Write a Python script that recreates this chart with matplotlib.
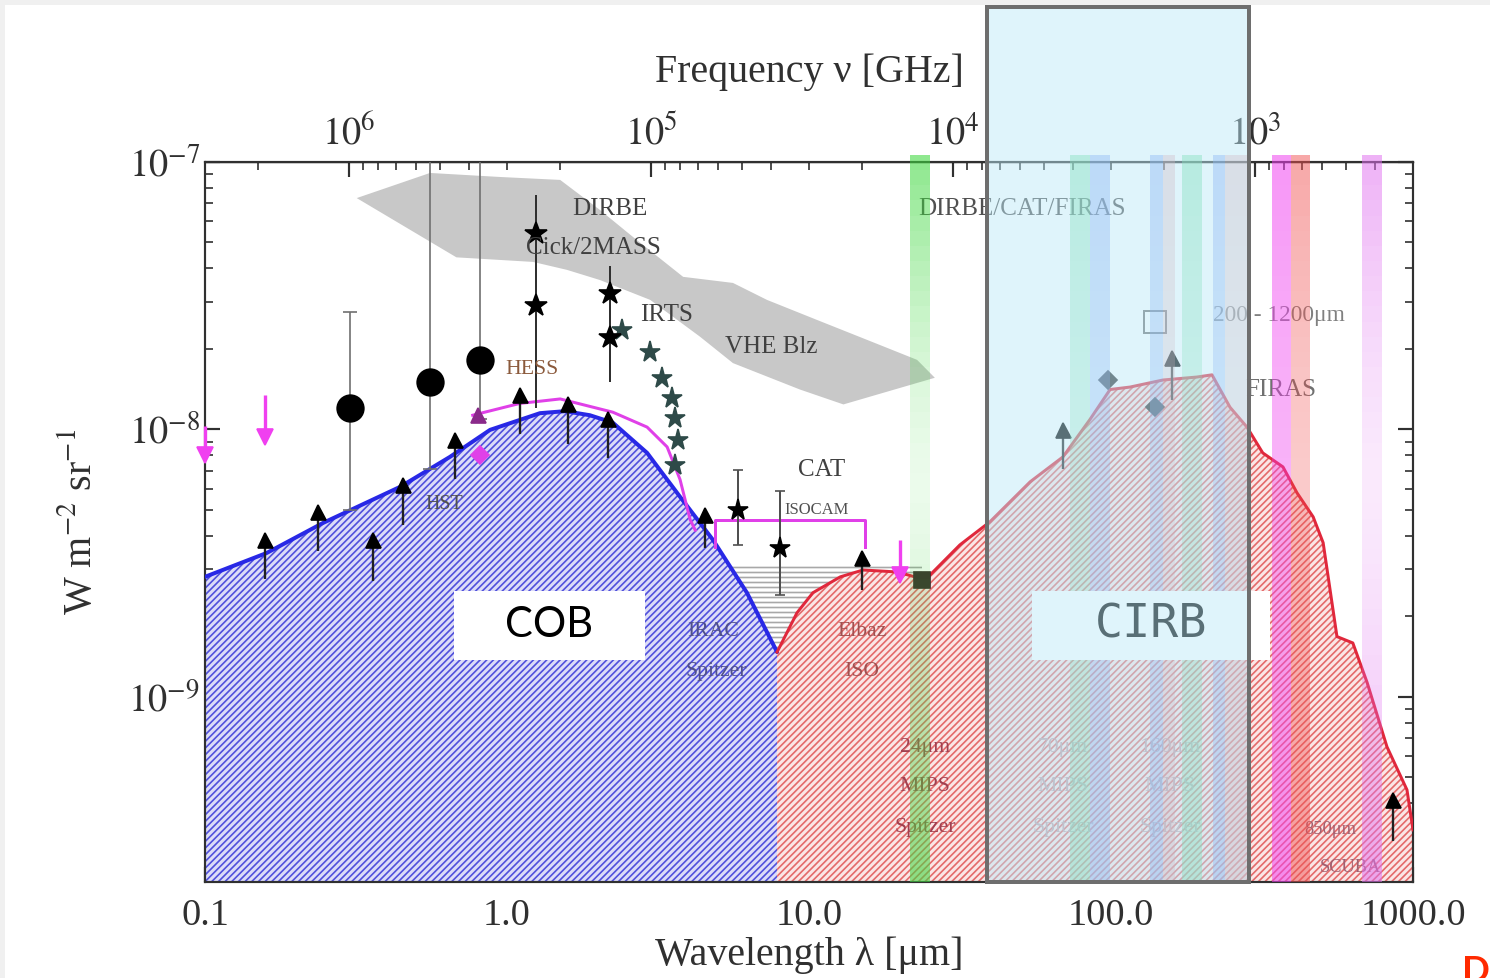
import numpy as np
import matplotlib
matplotlib.use("Agg")
import matplotlib.pyplot as plt
from matplotlib.patches import Rectangle, Polygon
from matplotlib.transforms import blended_transform_factory
from matplotlib.ticker import LogLocator, NullFormatter

plt.rcParams['font.family'] = ['Liberation Serif', 'DejaVu Serif']
plt.rcParams['mathtext.fontset'] = 'stix'
plt.rcParams['hatch.linewidth'] = 1.0

# ---------------- data (wavelength in micron, intensity in W m^-2 sr^-1) ----------------
cob_wl = [0.1, 0.160, 0.246, 0.443, 0.647, 0.879, 1.286, 1.556, 1.88, 2.24, 2.91, 3.74, 4.81, 6.23, 7.84]
cob_flux = [2.81e-9, 3.45e-9, 4.47e-9, 6.10e-9, 7.89e-9, 9.96e-9, 1.15e-8, 1.17e-8, 1.13e-8,
            1.06e-8, 8.17e-9, 5.60e-9, 3.86e-9, 2.45e-9, 1.47e-9]

cirb_wl = [7.84, 9.12, 10.3, 12.7, 15.1, 19.6, 22.4, 25.2, 31.6, 39.7, 54.0, 69.3, 85.2, 99.3,
           115.6, 148.6, 192.7, 216, 247.8, 282, 318, 371, 413, 467, 504, 560, 632, 705, 820, 955, 1000]
cirb_flux = [1.47e-9, 2.06e-9, 2.45e-9, 2.81e-9, 2.98e-9, 2.93e-9, 2.81e-9, 2.86e-9, 3.70e-9,
             4.51e-9, 6.37e-9, 7.89e-9, 1.09e-8, 1.41e-8, 1.44e-8, 1.53e-8, 1.57e-8, 1.60e-8,
             1.21e-8, 1.02e-8, 8.17e-9, 7.24e-9, 5.79e-9, 4.71e-9, 3.77e-9, 1.68e-9, 1.59e-9,
             1.13e-9, 6.50e-10, 4.49e-10, 3.18e-10]

# upper bound on the optical background
ub_wl = [0.77, 1.10, 1.50, 2.24, 2.91, 3.39, 3.74, 4.04, 4.2]
ub_flux = [1.13e-8, 1.25e-8, 1.30e-8, 1.16e-8, 1.02e-8, 8.6e-9, 6.5e-9, 4.6e-9, 4.2e-9]
ub_box_wl = [4.88, 4.88, 15.3, 15.3]
ub_box_flux = [3.64e-9, 4.59e-9, 4.59e-9, 3.64e-9]

# VHE blazar constraint region
vhe_wl = [0.318, 0.556, 0.948, 1.50, 2.03, 2.61, 3.83, 5.60, 7.26, 10.6, 15.6, 22.8, 26.1,
          13.0, 9.33, 5.60, 4.36, 2.98, 2.03, 1.58, 1.22, 0.68]
vhe_flux = [7.33e-8, 9.10e-8, 8.79e-8, 8.57e-8, 6.62e-8, 5.25e-8, 3.72e-8, 3.53e-8, 3.05e-8,
            2.57e-8, 2.16e-8, 1.82e-8, 1.56e-8, 1.24e-8, 1.41e-8, 1.77e-8, 2.22e-8, 3.05e-8,
            3.62e-8, 3.95e-8, 4.23e-8, 4.40e-8]

# mid-IR gray allowed region
mir_wl = [5.2, 23.7]
mir_top = [3.11e-9, 3.11e-9]
mir_bot = [1.3e-9, 1.3e-9]

# absolute measurements (large circles)
abs_wl = [0.302, 0.556, 0.815]
abs_flux = [1.20e-8, 1.51e-8, 1.82e-8]
abs_lo = [5.0e-9, 7.1e-9, 1.09e-8]
abs_hi = [2.75e-8, 1.5e-7, 1.5e-7]

# galaxy counts lower limits
ll_wl = [0.158, 0.237, 0.360, 0.453, 0.673, 1.104, 1.59, 2.16, 4.53, 14.96, 69.3, 159.0, 859.0]
ll_flux = [3.86e-9, 4.92e-9, 3.86e-9, 6.2e-9, 9.1e-9, 1.35e-8, 1.24e-8, 1.09e-8, 4.79e-9,
           3.31e-9, 9.96e-9, 1.85e-8, 4.12e-10]
ll_base = [2.75e-9, 3.5e-9, 2.7e-9, 4.4e-9, 6.5e-9, 9.6e-9, 8.8e-9, 7.8e-9, 3.6e-9,
           2.5e-9, 7.1e-9, 1.29e-8, 2.9e-10]

# DIRBE / 2MASS near-IR detections
dirbe_wl = [1.25, 1.25, 2.2, 2.2]
dirbe_flux = [5.4e-8, 2.9e-8, 3.2e-8, 2.2e-8]
dirbe_lo = [1.2e-8, 1.2e-8, 1.5e-8, 1.5e-8]
dirbe_hi = [7.5e-8, 7.5e-8, 4.1e-8, 4.1e-8]

# IRTS spectrum
irts_wl = [2.40, 2.98, 3.26, 3.52, 3.60, 3.68, 3.60]
irts_flux = [2.35e-8, 1.95e-8, 1.56e-8, 1.31e-8, 1.10e-8, 9.1e-9, 7.37e-9]

# mid-IR detections with error bars
mir_pt_wl = [5.82, 8.02]
mir_pt_flux = [5.0e-9, 3.61e-9]
mir_pt_lo = [3.7e-9, 2.4e-9]
mir_pt_hi = [7.06e-9, 5.9e-9]

# far-IR detections
fir_wl = [97.7, 140.0]
fir_flux = [1.53e-8, 1.21e-8]
fir_box_wl = [140.0]
fir_box_flux = [2.52e-8]
iso_wl = [23.7]
iso_flux = [2.74e-9]

# upper limits
ul_wl = [0.1, 0.158, 20.0]
ul_top = [1.03e-8, 1.35e-8, 3.86e-9]
ul_flux = [8.0e-9, 9.4e-9, 2.86e-9]
hess_wl = [0.815, 0.80]
hess_flux = [8.0e-9, 1.13e-8]

# photometric bands
band_lo = [21.6, 73.1, 85.2, 134.6, 148.6, 171.8, 217.8, 238.5, 341.0, 394.0, 678.0]
band_hi = [25.2, 85.2, 99.3, 148.6, 163.0, 200.0, 238.5, 282.0, 394.0, 456.0, 789.0]
band_colors = ['#3fd83f', '#55d88a', '#6a8ff0', '#6a8ff0', '#e08890', '#55d88a',
               '#6a8ff0', '#e08890', '#f040f0', '#f05050', '#e070f0']
band_amax = [0.60, 0.45, 0.45, 0.45, 0.35, 0.45, 0.45, 0.35, 0.55, 0.50, 0.55]
band_amin = [0.10, 0.25, 0.30, 0.30, 0.22, 0.25, 0.30, 0.22, 0.40, 0.30, 0.15]

cirb_zone = [38.8, 286.5]

wl_ticks = [0.1, 1.0, 10.0, 100.0, 1000.0]
wl_ticklabels = ['0.1', '1.0', '10.0', '100.0', '1000.0']
y_ticks = [1e-9, 1e-8, 1e-7]
y_ticklabels = [r'$10^{-9}$', r'$10^{-8}$', r'$10^{-7}$']
nu_ticks = [1e3, 1e4, 1e5, 1e6]
nu_ticklabels = [r'$10^{3}$', r'$10^{4}$', r'$10^{5}$', r'$10^{6}$']

# ---------------- figure ----------------
W, H, DPI = 1490, 978, 120
fig = plt.figure(figsize=(W / DPI, H / DPI), dpi=DPI, facecolor='white')
fig.patches.append(Rectangle((0, 1 - 5 / H), 1, 5 / H, transform=fig.transFigure,
                             facecolor='#f0f0f0', edgecolor='none', zorder=0))
fig.patches.append(Rectangle((0, 0), 5 / W, 1, transform=fig.transFigure,
                             facecolor='#f0f0f0', edgecolor='none', zorder=0))

ax = fig.add_axes([205 / W, 1 - 882 / H, 1208 / W, 720 / H])
ax.set_xscale('log')
ax.set_yscale('log')
ax.set_xlim(0.1, 1000)
ax.set_ylim(2.03e-10, 1e-7)

# regions
ax.add_patch(Polygon(np.column_stack([vhe_wl, vhe_flux]), closed=True,
                     facecolor='#c8c8c8', edgecolor='none', zorder=1))
ax.fill_between(mir_wl, mir_bot, mir_top, facecolor='white', edgecolor='#a8a8a8',
                hatch='----', linewidth=0, zorder=1.5)
ax.fill_between(cob_wl, cob_flux, 1e-11, facecolor='#dcdcf8', edgecolor='#5050dc',
                hatch='//////', linewidth=0, zorder=2)
ax.fill_between(cirb_wl, cirb_flux, 1e-11, facecolor='#fbe6e6', edgecolor='#e46a6a',
                hatch='//////', linewidth=0, zorder=2)

# model curves
ax.plot(cob_wl, cob_flux, color='#2828e6', lw=2.4, zorder=3, solid_capstyle='round')
ax.plot(cirb_wl, cirb_flux, color='#e0283c', lw=1.8, zorder=3)
ax.plot(ub_wl, ub_flux, color='#e040e8', lw=1.8, zorder=3)
ax.plot(ub_box_wl, ub_box_flux, color='#e040e8', lw=1.8, zorder=3)

# measurements
ax.errorbar(abs_wl, abs_flux,
            yerr=[np.subtract(abs_flux, abs_lo), np.subtract(abs_hi, abs_flux)],
            fmt='o', ms=16, color='black', ecolor='#707070', elinewidth=1.0,
            capsize=4, zorder=4)
ax.errorbar(ll_wl, ll_flux, yerr=[np.subtract(ll_flux, ll_base), np.zeros(len(ll_flux))],
            fmt='^', ms=9, color='black', ecolor='#202020', elinewidth=1.4,
            capsize=0, zorder=4)
ax.errorbar(dirbe_wl, dirbe_flux,
            yerr=[np.subtract(dirbe_flux, dirbe_lo), np.subtract(dirbe_hi, dirbe_flux)],
            fmt='*', ms=14, color='black', ecolor='#303030', elinewidth=1.2,
            capsize=0, zorder=4)
ax.plot(irts_wl, irts_flux, '*', ms=13, color='#2e4a48', zorder=4)
ax.errorbar(mir_pt_wl, mir_pt_flux,
            yerr=[np.subtract(mir_pt_flux, mir_pt_lo), np.subtract(mir_pt_hi, mir_pt_flux)],
            fmt='*', ms=13, color='black', ecolor='#505050', elinewidth=1.2,
            capsize=3, zorder=4)
ax.plot(fir_wl, fir_flux, linestyle='none', marker='D', ms=8, color='#303030', zorder=4)
ax.plot(fir_box_wl, fir_box_flux, linestyle='none', marker='s', ms=13, mfc='none',
        mec='#707070', mew=1.2, zorder=4)
ax.plot(iso_wl, iso_flux, linestyle='none', marker='s', ms=10, color='#3a2a2a', zorder=4)
ax.vlines(ul_wl, ul_flux, ul_top, color='#f040f0', lw=2.0, zorder=4, clip_on=False)
ax.plot(ul_wl, ul_flux, linestyle='none', marker='v', ms=10, color='#f040f0', zorder=4,
        clip_on=False)
ax.plot(hess_wl[:1], hess_flux[:1], linestyle='none', marker='D', ms=8, color='#e040e8', zorder=4)
ax.plot(hess_wl[1:], hess_flux[1:], linestyle='none', marker='^', ms=9, color='#8a2a8a', zorder=4)

# labels inside the plot
lab = dict(zorder=5, va='center')
ax.text(2.19, 6.7e-8, 'DIRBE', fontsize=15, color='#404040', ha='center', **lab)
ax.text(1.16, 4.77e-8, 'Cick/2MASS', fontsize=15, color='#404040', ha='left', **lab)
ax.text(2.76, 2.68e-8, 'IRTS', fontsize=15, color='#404040', ha='left', **lab)
ax.text(5.27, 2.03e-8, 'VHE Blz', fontsize=15, color='#404040', ha='left', **lab)
ax.text(0.985, 1.67e-8, 'HESS', fontsize=13, color='#8b5a3c', ha='left', **lab)
ax.text(0.535, 5.22e-9, 'HST', fontsize=12, color='#505050', ha='left', **lab)
ax.text(9.2, 7.06e-9, 'CAT', fontsize=15, color='#404040', ha='left', **lab)
ax.text(8.3, 5.0e-9, 'ISOCAM', fontsize=10, color='#505050', ha='left', **lab)
ax.text(4.81, 1.75e-9, 'IRAC', fontsize=13, color='#50508a', ha='center', **lab)
ax.text(4.93, 1.24e-9, 'Spitzer', fontsize=13, color='#50508a', ha='center', **lab)
ax.text(14.96, 1.75e-9, 'Elbaz', fontsize=13, color='#a05050', ha='center', **lab)
ax.text(14.96, 1.24e-9, 'ISO', fontsize=13, color='#a05050', ha='center', **lab)
for xw, name, col in [(24.2, '24μm', '#a04050'), (69.3, '70μm', '#c0a0a8'),
                      (156.8, '160μm', '#c0a0a8')]:
    ax.text(xw, 6.45e-10, name, fontsize=13, color=col, ha='center', **lab)
    ax.text(xw, 4.61e-10, 'MIPS', fontsize=13, color=col, ha='center', **lab)
    ax.text(xw, 3.24e-10, 'Spitzer', fontsize=13, color=col, ha='center', **lab)
ax.text(22.96, 6.7e-8, 'DIRBE/CAT/FIRAS', fontsize=15, color='#505050', ha='left', **lab)
ax.text(217.8, 2.66e-8, '200 - 1200μm', fontsize=14, color='#808080', ha='left', **lab)
ax.text(278, 1.41e-8, 'FIRAS', fontsize=15, color='#707070', ha='left', **lab)
ax.text(438, 3.18e-10, '850μm', fontsize=11, color='#a06070', ha='left', **lab)
ax.text(492, 2.3e-10, 'SCUBA', fontsize=11, color='#a06070', ha='left', **lab)

# axes styling
for sp in ax.spines.values():
    sp.set_color('#303030')
    sp.set_linewidth(1.3)
ax.set_xticks(wl_ticks, wl_ticklabels)
ax.set_yticks(y_ticks, y_ticklabels)
ax.xaxis.set_minor_locator(LogLocator(base=10, subs=np.arange(2, 10)))
ax.yaxis.set_minor_locator(LogLocator(base=10, subs=np.arange(2, 10)))
ax.xaxis.set_minor_formatter(NullFormatter())
ax.yaxis.set_minor_formatter(NullFormatter())
ax.tick_params(which='both', direction='in', top=False, right=True, color='#303030',
               labelsize=23, labelcolor='#303030')
ax.tick_params(which='major', length=9, width=1.3)
ax.tick_params(which='minor', length=5, width=1.0)
ax.tick_params(axis='x', pad=10)
ax.tick_params(axis='y', pad=3)
ax.set_xlabel('Wavelength λ [μm]', fontsize=24, color='#303030')
ax.xaxis.set_label_coords(0.5, -0.075)
ax.set_ylabel(r'W m$^{-2}$ sr$^{-1}$', fontsize=24, color='#303030')
ax.yaxis.set_label_coords(-0.087, 0.5)

with np.errstate(divide='ignore'):
    sec = ax.secondary_xaxis('top', functions=(lambda w: 3e5 / np.asarray(w, float),
                                               lambda f: 3e5 / np.asarray(f, float)))
sec.set_xticks(nu_ticks, nu_ticklabels)
sec.xaxis.set_minor_locator(LogLocator(base=10, subs=np.arange(2, 10)))
sec.xaxis.set_minor_formatter(NullFormatter())
sec.tick_params(which='both', direction='in', color='#303030', labelsize=23,
                labelcolor='#303030', pad=6)
sec.tick_params(which='major', length=9, width=1.3)
sec.tick_params(which='minor', length=5, width=1.0)
fig.text(0.5 * (205 + 1413) / W, 1 - 72 / H, 'Frequency ν [GHz]', fontsize=24,
         color='#303030', ha='center', va='center')

# ---------------- overlays ----------------
trans = blended_transform_factory(ax.transData, fig.transFigure)
band_bottom = 1 - 882 / H
band_top = 1 - 155 / H
n_slices = 48
edges = np.linspace(band_bottom, band_top, n_slices + 1)


def band_alpha(t, amax, amin, t0=0.55):
    d = (t - t0) / (1 - t0) if t > t0 else (t0 - t) / t0
    return amin + (amax - amin) * d ** 1.5


for lo, hi, col, amax, amin in zip(band_lo, band_hi, band_colors, band_amax, band_amin):
    for k in range(n_slices):
        a = band_alpha((k + 0.5) / n_slices, amax, amin)
        ax.add_patch(Rectangle((lo, edges[k]), hi - lo, edges[k + 1] - edges[k],
                               transform=trans, facecolor=col, alpha=a, edgecolor='none',
                               linewidth=0, antialiased=False, clip_on=False, zorder=6))

# region labels
ax.add_patch(Rectangle((0.669, 1.375e-9), 2.864 - 0.669, 2.49e-9 - 1.375e-9,
                       facecolor='white', edgecolor='none', zorder=7))
ax.text(1.377, 1.86e-9, 'COB', fontsize=25, family='Lato', color='black',
        ha='center', va='center', zorder=7.5)
ax.add_patch(Rectangle((54.7, 1.375e-9), 336 - 54.7, 2.49e-9 - 1.375e-9,
                       facecolor='white', edgecolor='none', zorder=7))
ax.text(135.6, 1.86e-9, 'CIRB', fontsize=28, family='DejaVu Sans Mono', color='black',
        ha='center', va='center', zorder=7.5)

# highlighted far-infrared window
box_top = 1 - 7 / H
ax.add_patch(Rectangle((cirb_zone[0], band_bottom), cirb_zone[1] - cirb_zone[0],
                       box_top - band_bottom, transform=trans, facecolor='#bce9f8',
                       alpha=0.48, edgecolor='none', clip_on=False, zorder=8))
ax.add_patch(Rectangle((cirb_zone[0], band_bottom), cirb_zone[1] - cirb_zone[0],
                       box_top - band_bottom, transform=trans, facecolor='none',
                       edgecolor='#6e6e6e', linewidth=2.4, clip_on=False, zorder=8.5))

fig.text(1462 / W, 23 / H, 'D', fontsize=22, family='Lato', fontweight='bold',
         color='#ff2a00', ha='left', va='top')

fig.savefig('out.png', dpi=DPI, facecolor='white')
